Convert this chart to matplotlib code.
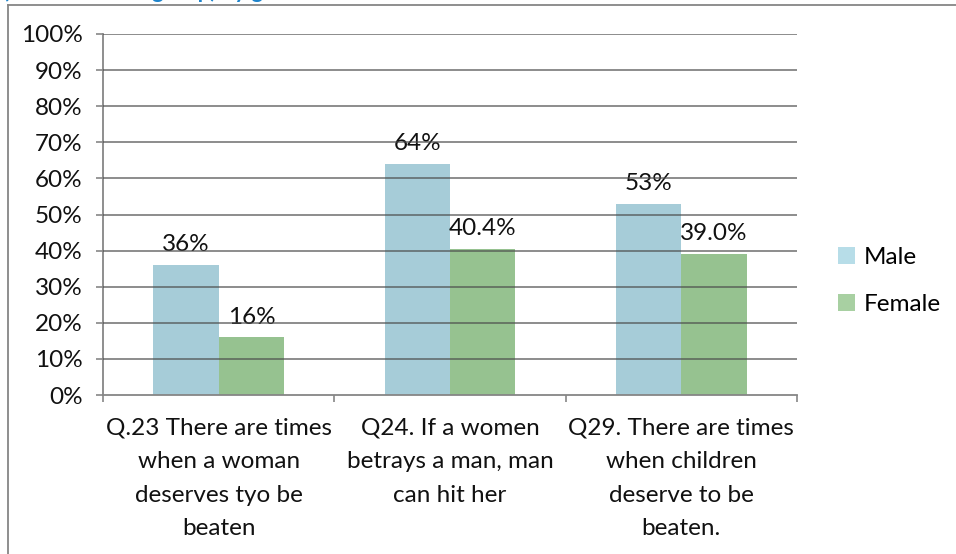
import matplotlib
matplotlib.use("Agg")
import matplotlib.pyplot as plt
from matplotlib.lines import Line2D
from matplotlib.patches import Patch
import numpy as np

plt.rcParams['font.family'] = ['Lato', 'DejaVu Sans']

categories = [
    "Q.23 There are times\nwhen a woman\ndeserves tyo be\nbeaten",
    "Q24. If a women\nbetrays a man, man\ncan hit her",
    "Q29. There are times\nwhen children\ndeserve to be\nbeaten.",
]
series_names = ["Male", "Female"]
male = [36, 64, 53]
female = [16, 40.4, 39.0]
male_labels = ["36%", "64%", "53%"]
female_labels = ["16%", "40.4%", "39.0%"]
y_ticks = [0, 10, 20, 30, 40, 50, 60, 70, 80, 90, 100]
y_tick_labels = [f"{v}%" for v in y_ticks]

male_color = "#A6CCD8"
female_color = "#96C290"
male_legend = "#B7DDE8"
female_legend = "#A8D0A2"
axis_gray = "#868686"

W, H = 956, 554
fig = plt.figure(figsize=(W / 100, H / 100), dpi=100)
ax = fig.add_axes([103 / W, 1 - 395 / H, (797 - 103) / W, (395 - 34) / H])

x = np.arange(len(categories))
bw = 0.283
ax.bar(x - bw / 2, male, bw, color=male_color, zorder=2)
ax.bar(x + bw / 2, female, bw, color=female_color, zorder=2)

fs = 17.5
for xi, v, lab in zip(x, male, male_labels):
    ax.annotate(lab, (xi - bw / 2, v), xytext=(0, 7), textcoords="offset points",
                ha="center", va="bottom", fontsize=fs, color="#111111")
for xi, v, lab in zip(x, female, female_labels):
    ax.annotate(lab, (xi + bw / 2, v), xytext=(0, 7), textcoords="offset points",
                ha="center", va="bottom", fontsize=fs, color="#111111")

ax.set_xlim(-0.5, len(categories) - 0.5)
ax.set_ylim(0, 100)

# horizontal gridlines drawn over the bars
for yv in y_ticks[1:]:
    ax.axhline(yv, color="#4a4a4a", alpha=0.68, lw=1.3, zorder=3)

ax.set_yticks(y_ticks)
ax.set_yticklabels(y_tick_labels, fontsize=fs, color="#111111")
ax.set_xticks(np.arange(-0.5, len(categories)))
ax.set_xticklabels([])
ax.set_xticks(x, minor=True)
ax.set_xticklabels(categories, minor=True, fontsize=fs, color="#111111",
                   linespacing=1.75)
ax.tick_params(axis="x", which="minor", length=0, pad=16)
ax.tick_params(axis="both", which="major", direction="out", length=5,
               width=1.2, color=axis_gray)
ax.tick_params(axis="y", pad=9.5)

for side in ("top", "right"):
    ax.spines[side].set_visible(False)
for side in ("left", "bottom"):
    ax.spines[side].set_color(axis_gray)
    ax.spines[side].set_linewidth(1.3)

handles = [Patch(facecolor=male_legend, edgecolor="none"),
           Patch(facecolor=female_legend, edgecolor="none")]
fig.legend(handles, series_names, loc="center left",
           bbox_to_anchor=(816 / W, 1 - 281 / H), frameon=False, fontsize=fs,
           handlelength=0.7, handleheight=0.7, handletextpad=0.35,
           labelspacing=1.1)

# outer chart frame
fig.add_artist(Line2D([7.5 / W, 7.5 / W], [0, 1 - 5 / H], color=axis_gray, lw=1.3))
fig.add_artist(Line2D([7.5 / W, 1], [1 - 5 / H, 1 - 5 / H], color=axis_gray, lw=1.3))

# heading above the chart frame
fig.text(3 / W, 1 + 2 / H, "(Total for each group) by gender", color="#1E84CC",
         fontsize=16, fontweight="bold", ha="left", va="baseline")

fig.savefig("out.png", dpi=100)
